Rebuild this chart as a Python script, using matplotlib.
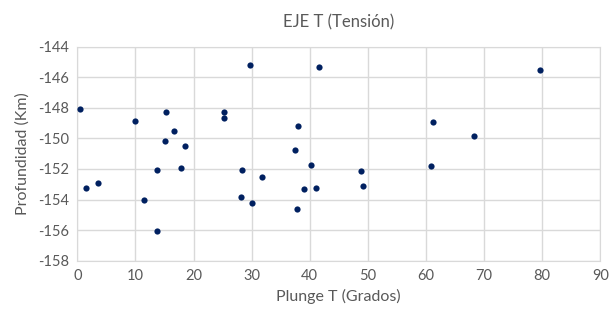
import matplotlib
matplotlib.use("Agg")
import matplotlib.pyplot as plt

# Plunge T (grados) vs profundidad (km)
plunge = [0.4, 1.5, 3.6, 9.9, 11.4, 13.8, 13.8, 15.3, 15.1, 16.6, 18.5, 17.9,
          25.3, 25.3, 28.4, 28.1, 29.7, 31.8, 30.1,
          41.6, 38.0, 37.5, 40.3, 39.0, 41.1, 37.8, 48.9, 49.2, 61.2, 60.9,
          68.2, 79.6]
profundidad = [-148.05, -153.24, -152.93, -148.84, -154.03, -152.04, -156.03, -148.3,
               -150.15, -149.5, -150.5, -151.93, -148.3, -148.64, -152.04, -153.83,
               -145.22, -152.52, -154.24,
               -145.33, -149.17, -150.74, -151.72, -153.3, -153.24, -154.6, -152.15,
               -153.13, -148.94, -151.82, -149.84, -145.54]

plt.rcParams['font.family'] = ['Lato', 'DejaVu Sans']
plt.rcParams['axes.unicode_minus'] = False
gray = '#595959'

fig = plt.figure(figsize=(6.11, 3.17), dpi=100)
ax = fig.add_axes([0.1265, 0.1776, 0.856, 0.675])
ax.scatter(plunge, profundidad, s=20, color='#002060', zorder=3, linewidths=0)

ax.set_xlim(0, 90)
ax.set_ylim(-158, -144)
ax.set_xticks(range(0, 91, 10))
ax.set_yticks(range(-158, -143, 2))
ax.grid(True, color='#d9d9d9', linewidth=1)
for s in ax.spines.values():
    s.set_color('#d9d9d9')
ax.tick_params(length=0, colors=gray, labelsize=10.5, pad=6)

ax.set_title('EJE T (Tensión)', color=gray, fontsize=12, pad=14)
ax.set_xlabel('Plunge T (Grados)', color=gray, fontsize=11.5, labelpad=4)
ax.set_ylabel('Profundidad (Km)', color=gray, fontsize=11.5, labelpad=6)

fig.savefig('out.png', dpi=100)
